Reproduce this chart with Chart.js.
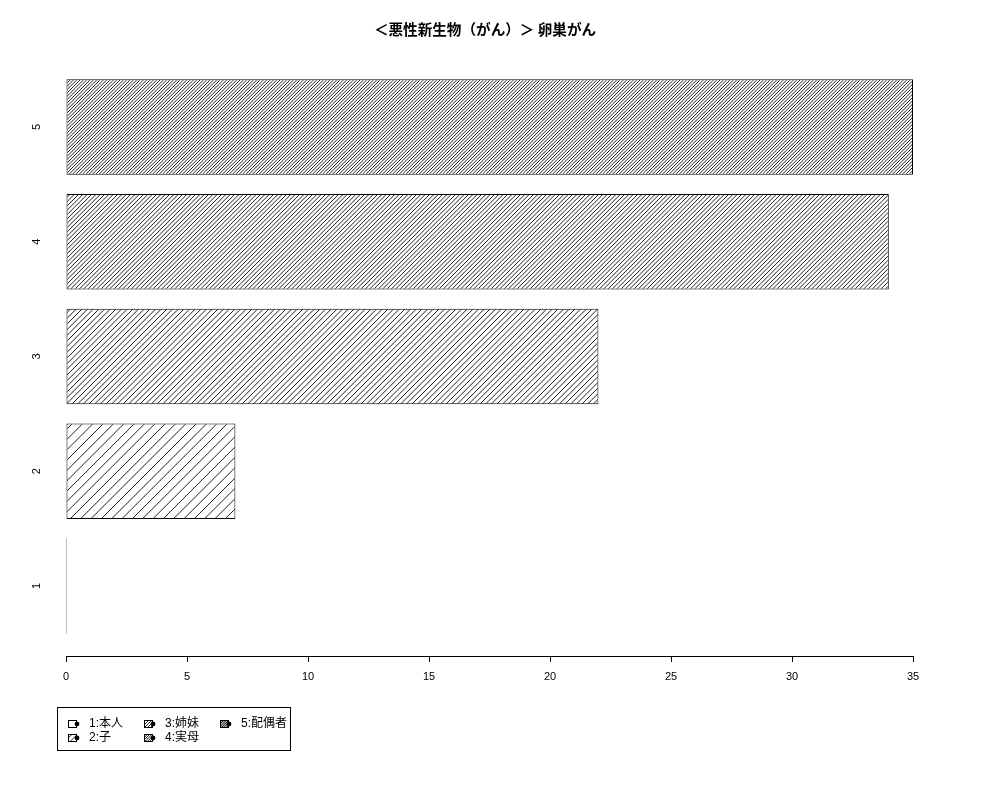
<!DOCTYPE html>
<html>
<head>
<meta charset="utf-8">
<script src="https://cdn.jsdelivr.net/npm/chart.js@4/dist/chart.umd.min.js"></script>
<style>
html,body{margin:0;padding:0;background:#fff;}
#wrap{position:relative;width:1000px;height:800px;}
#legend{position:absolute;left:57px;top:707px;width:234px;height:44px;border:1px solid #000;box-sizing:border-box;font:12px 'Liberation Sans','Noto Sans CJK JP',sans-serif;color:#000;}
.item{position:absolute;display:flex;align-items:center;height:13px;white-space:nowrap;line-height:13px;}
.item canvas{margin-right:9px;display:block;}
</style>
</head>
<body>
<div id="wrap">
<canvas id="c" width="1000" height="800"></canvas>
<div id="legend"></div>
</div>
<script>
// ---- data ----
const categories = ['1', '2', '3', '4', '5'];
const values = [0, 7, 22, 34, 35];
const legendLabels = ['1:本人', '2:子', '3:姉妹', '4:実母', '5:配偶者'];
const xTicks = [0, 5, 10, 15, 20, 25, 30, 35];
const titleText = '＜悪性新生物（がん）＞ 卵巣がん';

// ---- styles ----
const hatchTiles = [[10, 0], [31, 3], [17, 3], [13, 3], [10, 3]]; // [tile size, lines per tile]
const FONT = "'Liberation Sans','Noto Sans CJK JP',sans-serif";

function hatchCanvas(tile, n) {
  const c = document.createElement('canvas');
  c.width = c.height = tile;
  const g = c.getContext('2d');
  g.fillStyle = '#fff';
  g.fillRect(0, 0, tile, tile);
  if (n > 0) {
    g.strokeStyle = '#222';
    g.lineWidth = 1;
    g.beginPath();
    const s = tile / n;
    for (let k = -n; k <= n; k++) {
      g.moveTo(k * s - 1, tile + 1);
      g.lineTo(k * s + tile + 1, -1);
    }
    g.stroke();
  }
  return c;
}

const canvas = document.getElementById('c');
const ctx = canvas.getContext('2d');
const patterns = hatchTiles.map(([t, n]) => ctx.createPattern(hatchCanvas(t, n), 'repeat'));

// bar slot positions (R barplot layout: width 1, space 0.2)
const barPos = categories.map((_, i) => 0.7 + 1.2 * i);

const titlePlugin = {
  id: 'rTitle',
  afterDraw(chart) {
    const c = chart.ctx;
    c.save();
    c.font = "bold 14.6px 'Noto Sans CJK JP','Liberation Sans',sans-serif";
    c.fillStyle = '#000';
    c.textAlign = 'center';
    c.textBaseline = 'middle';
    c.fillText(titleText, 485, 29);
    c.restore();
  }
};

const chart = new Chart(ctx, {
  type: 'bar',
  data: {
    labels: categories,
    datasets: [{
      data: values.map((v, i) => ({ x: v, y: barPos[i] })),
      backgroundColor: patterns,
      borderColor: '#000',
      borderWidth: 1,
      borderSkipped: false,
      minBarLength: 1,
      categoryPercentage: 1,
      barPercentage: 1 / 1.2
    }]
  },
  options: {
    indexAxis: 'y',
    responsive: false,
    devicePixelRatio: 1,
    animation: false,
    layout: { padding: { top: 57, right: 87, bottom: 0, left: 0 } },
    plugins: {
      legend: { display: false },
      tooltip: { enabled: false },
      title: { display: false }
    },
    scales: {
      x: {
        type: 'linear',
        min: 0,
        max: 35,
        afterBuildTicks: (s) => { s.ticks = xTicks.map(v => ({ value: v })); },
        afterFit: (s) => { s.height = 144; },
        border: { display: true, color: '#000', width: 1 },
        grid: { display: true, drawOnChartArea: false, drawTicks: true, tickLength: 6, color: '#000' },
        ticks: { color: '#000', font: { family: FONT, size: 11 }, padding: 8, maxRotation: 0 }
      },
      y: {
        type: 'linear',
        min: -0.032,
        max: 6.232,
        offset: false,
        afterBuildTicks: (s) => { s.ticks = barPos.map(v => ({ value: v })); },
        afterFit: (s) => { s.width = 66; },
        border: { display: false },
        grid: { display: false, drawTicks: false, offset: false },
        ticks: {
          color: '#000',
          font: { family: FONT, size: 11 },
          minRotation: 90,
          maxRotation: 90,
          crossAlign: 'center',
          padding: 26,
          callback: (v) => {
            const i = barPos.findIndex(p => Math.abs(p - v) < 1e-6);
            return i >= 0 ? categories[i] : '';
          }
        }
      }
    }
  },
  plugins: [titlePlugin]
});

// ---- HTML legend (column-major, 2 rows) ----
const legendEl = document.getElementById('legend');
legendLabels.forEach((lab, i) => {
  const col = Math.floor(i / 2), row = i % 2;
  const item = document.createElement('div');
  item.className = 'item';
  item.style.left = (10 + col * 76) + 'px';
  item.style.top = (9 + row * 14) + 'px';
  const sw = document.createElement('canvas');
  sw.width = 12; sw.height = 9;
  const g = sw.getContext('2d');
  const [t, n] = hatchTiles[i];
  g.fillStyle = g.createPattern(hatchCanvas(Math.max(4, Math.round(t / 2)), n), 'repeat');
  g.fillRect(0.5, 1.5, 8, 7);
  g.strokeStyle = '#000';
  g.lineWidth = 1;
  g.strokeRect(0.5, 1.5, 8, 7);
  g.fillStyle = '#000';
  g.beginPath();
  g.arc(9, 5, 2.4, 0, Math.PI * 2);
  g.fill();
  const tx = document.createElement('span');
  tx.textContent = lab;
  item.appendChild(sw);
  item.appendChild(tx);
  legendEl.appendChild(item);
});
</script>
</body>
</html>
